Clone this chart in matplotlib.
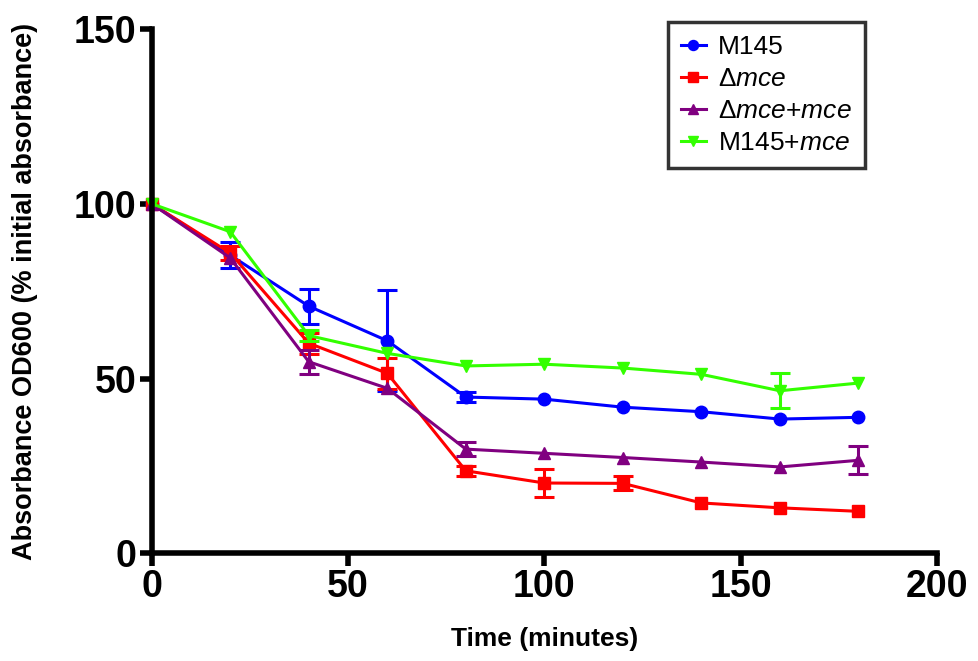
import matplotlib
matplotlib.use("Agg")
import matplotlib.pyplot as plt
import numpy as np

plt.rcParams["font.family"] = ["Liberation Sans", "DejaVu Sans"]
plt.rcParams["mathtext.fontset"] = "custom"
plt.rcParams["mathtext.rm"] = "Liberation Sans"
plt.rcParams["mathtext.it"] = "Liberation Sans:italic"

time = [0, 20, 40, 60, 80, 100, 120, 140, 160, 180]

m145 = [100, 85.3, 70.7, 60.8, 44.7, 44.1, 41.8, 40.5, 38.4, 38.9]
m145_err = [0, 3.7, 5.0, 14.5, 1.5, 0, 0, 0, 0, 0]

dmce = [100, 85.9, 60.1, 51.5, 23.6, 20.1, 20.0, 14.4, 13.0, 12.0]
dmce_err = [0, 2.0, 3.0, 4.5, 1.5, 4.0, 2.0, 0, 0, 0]

dmce_mce = [100, 84.5, 54.8, 47.2, 29.8, 28.6, 27.4, 26.1, 24.7, 26.6]
dmce_mce_err = [0, 0, 3.5, 0, 2.0, 0, 0, 0, 0, 4.0]

m145_mce = [100, 92.0, 62.3, 57.2, 53.6, 54.1, 53.0, 51.2, 46.5, 48.7]
m145_mce_err = [0, 0, 1.5, 0, 0, 0, 0, 0, 5.0, 0]

series = [
    (m145, m145_err, "#0000ff", "o", "M145"),
    (dmce, dmce_err, "#ff0000", "s", r"$\Delta\mathit{mce}$"),
    (dmce_mce, dmce_mce_err, "#800080", "^", r"$\Delta\mathit{mce}$+$\mathit{mce}$"),
    (m145_mce, m145_mce_err, "#33ff00", "v", r"M145+$\mathit{mce}$"),
]

fig = plt.figure(figsize=(9.79, 6.61), dpi=100)
ax = fig.add_axes([0.155, 0.163, 0.802, 0.793])

handles = []
for y, err, color, marker, label in series:
    t = np.array(time)
    y = np.array(y)
    err = np.array(err)
    m = err > 0
    # only draw error bars where they stick out of the marker
    ax.errorbar(t[m], y[m], yerr=err[m], fmt="none", ecolor=color,
                elinewidth=2.2, capsize=7, capthick=2.2, clip_on=False)
    h, = ax.plot(t, y, color=color, marker=marker, markersize=9,
                 linewidth=2.2, label=label, clip_on=False)
    handles.append(h)

ax.set_xlim(0, 200)
ax.set_ylim(0, 150)
ax.set_xticks([0, 50, 100, 150, 200])
ax.set_yticks([0, 50, 100, 150])
for side in ["top", "right"]:
    ax.spines[side].set_visible(False)
for side in ["left", "bottom"]:
    ax.spines[side].set_linewidth(4)
ax.tick_params(axis="both", width=4, length=9, labelsize=27, pad=2)
for lbl in ax.get_xticklabels() + ax.get_yticklabels():
    lbl.set_fontweight("bold")

ax.set_xlabel("Time (minutes)", fontsize=19, fontweight="bold", labelpad=16)
ax.set_ylabel("Absorbance OD600 (% initial absorbance)", fontsize=19.5,
              fontweight="bold", labelpad=26)

leg = fig.legend(handles=handles, loc="upper left", bbox_to_anchor=(0.682, 0.967),
                 fontsize=19, frameon=True, fancybox=False, edgecolor="black",
                 handlelength=0.95, handletextpad=0.45, borderpad=0.5,
                 labelspacing=0.3, borderaxespad=0, markerscale=0.8)
leg.get_frame().set_linewidth(2.5)

fig.savefig("out.png", dpi=100)
